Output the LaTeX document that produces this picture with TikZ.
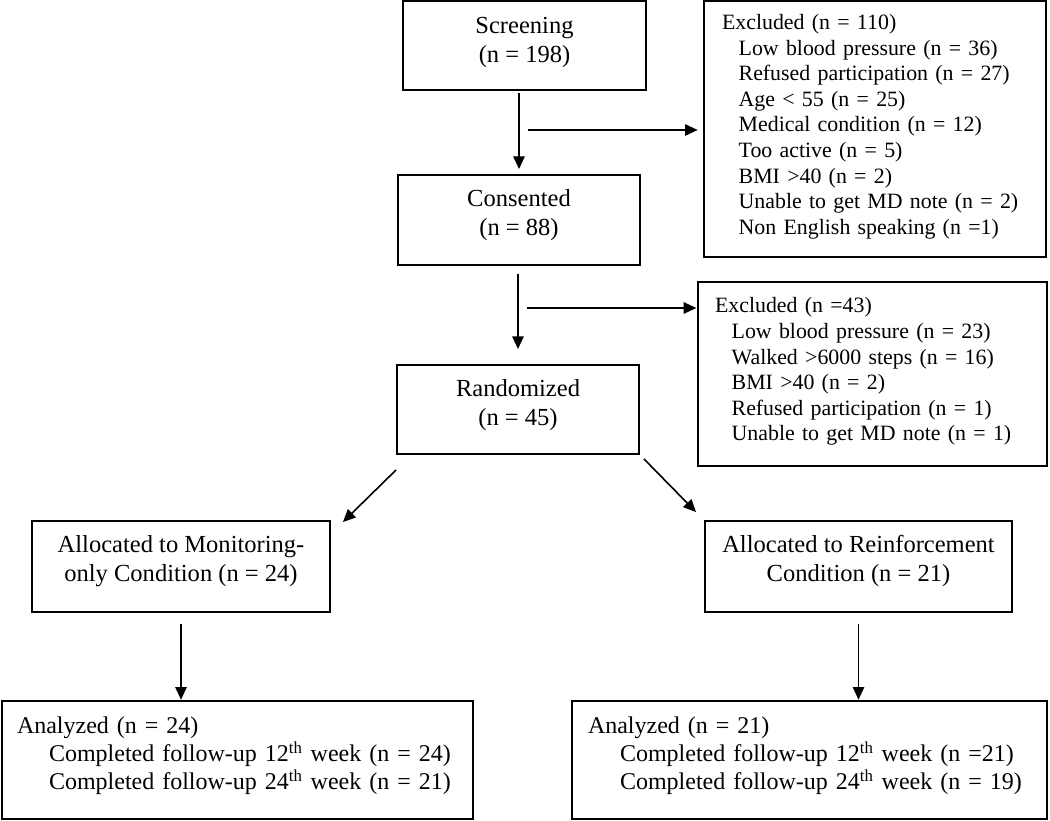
\documentclass[tikz,border=0pt]{standalone}
\usepackage{fontspec}
\setmainfont{Liberation Serif}
\usetikzlibrary{arrows.meta,calc}
\newcommand{\bigtext}{\fontsize{18.4}{21.5}\selectfont}
\newcommand{\midtext}{\fontsize{18}{21}\selectfont}
\newcommand{\smalltext}{\fontsize{16.4}{19.2}\selectfont}
\newcommand{\lowpad}[1]{\rule[-#1]{0pt}{#1}}
\newcommand{\ind}{\hspace*{12.5pt}}
\newcommand{\indd}{\hspace*{24pt}}
\tikzset{
    stage/.style =  {rectangle,
                    draw=black,
                    text=black,
                    line width=1.4pt,
                    align=center,
                    font=\bigtext,
                    inner sep=0pt},
    excl/.style =   {rectangle,
                    draw=black,
                    text=black,
                    line width=1.4pt,
                    align=left,
                    font=\smalltext,
                    inner ysep=0pt},
    result/.style = {rectangle,
                    draw=black,
                    text=black,
                    line width=1.4pt,
                    align=left,
                    font=\midtext,
                    inner ysep=0pt},
    flow/.style =   {->,
                    line width=1.2pt},
    >={Triangle[length=9.5pt,width=8.5pt]}}
\begin{document}
\begin{tikzpicture}[x=0.75pt,y=-0.75pt]
    \useasboundingbox (0,0) rectangle (1050,821);
                \node[stage, minimum width=182.25pt, minimum height=66.75pt] (scr)  at (524.5,45.5)  {Screening\\(n = 198)\lowpad{8pt}};
                \node[stage, minimum width=181.5pt,  minimum height=67.5pt]  (cons) at (519,220)     {Consented\\(n = 88)\lowpad{11pt}};
                \node[stage, minimum width=181.5pt,  minimum height=66.75pt] (rand) at (518,409.5)   {Randomized\\(n = 45)\lowpad{11pt}};
                \node[stage, minimum width=223.5pt,  minimum height=68.25pt] (mon)  at (181,566.5)   {Allocated to Monitoring-\\only Condition (n = 24)\lowpad{12pt}};
                \node[stage, minimum width=230.25pt, minimum height=68.25pt] (rein) at (858.5,566.5) {Allocated to Reinforcement\\Condition (n = 21)\lowpad{12pt}};
                \node[excl, inner xsep=13.5pt, text width=229.5pt, minimum height=192pt] (exc1) at (875,129)
                    {Excluded (n = 110)\\
                    \ind Low blood pressure (n = 36)\\
                    \ind Refused participation (n = 27)\\
                    \ind Age < 55 (n = 25)\\
                    \ind Medical condition (n = 12)\\
                    \ind Too active (n = 5)\\
                    \ind BMI >40 (n = 2)\\
                    \ind Unable to get MD note (n = 2)\\
                    \ind Non English speaking (n =1)\lowpad{7pt}};
                \node[excl, inner xsep=12.75pt, text width=236.25pt, minimum height=138pt] (exc2) at (872.5,374)
                    {Excluded (n =43)\\
                    \ind Low blood pressure (n = 23)\\
                    \ind Walked >6000 steps (n = 16)\\
                    \ind BMI >40 (n = 2)\\
                    \ind Refused participation (n = 1)\\
                    \ind Unable to get MD note (n = 1)\lowpad{7pt}};
                \node[result, inner xsep=11.25pt, text width=330.75pt, minimum height=88pt] (anl) at (237.5,760)
                    {Analyzed (n = 24)\\
                    \indd Completed follow-up 12\textsuperscript{th} week (n = 24)\\
                    \indd Completed follow-up 24\textsuperscript{th} week (n = 21)\lowpad{10pt}};
                \node[result, inner xsep=12pt, text width=332.25pt, minimum height=88pt] (anr) at (809.5,760)
                    {Analyzed (n = 21)\\
                    \indd Completed follow-up 12\textsuperscript{th} week (n =21)\\
                    \indd Completed follow-up 24\textsuperscript{th} week (n = 19)\lowpad{10pt}};
                \coordinate (h1) at (528,130);
                \coordinate (h2) at (527,308);
                \draw[flow, shorten <=1.5pt, shorten >=3.75pt] (scr.south -| cons.north) -- (cons.north);
                \draw[flow, shorten <=6pt, shorten >=11.25pt]  (cons.south -| rand.north) -- (rand.north);
                \draw[flow, shorten >=4pt]   (h1) -- (h1 -| exc1.west);
                \draw[flow, shorten >=0.5pt] (h2) -- (h2 -| exc2.west);
                \draw[flow] ($(rand.south west)+(0,15)$) -- ($(mon.north east)+(12,2)$);
                \draw[flow] ($(rand.south east)+(4,4)$)  -- ($(rein.north west)+(-8,-8)$);
                \draw[flow, shorten <=8pt, shorten >=0.5pt] (mon.south)  -- (mon.south |- anl.north);
                \draw[flow, shorten <=8pt, shorten >=0.5pt] (rein.south) -- (rein.south |- anr.north);
\end{tikzpicture}
\end{document}
